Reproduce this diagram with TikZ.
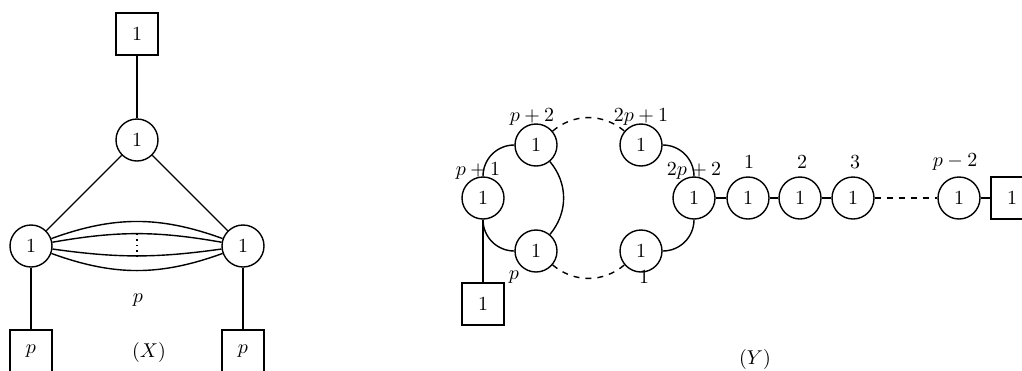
\documentclass[tikz,border=0pt]{standalone}
\begin{document}
\begin{tikzpicture}[x=0.5pt,y=0.5pt,
  vtx/.style={circle,draw,line width=0.7pt,minimum size=21pt,inner sep=0pt},
  sq/.style={rectangle,draw,line width=0.7pt,minimum size=21pt,inner sep=0pt},
  lnk/.style={line width=0.7pt},
  lbl/.style={inner sep=0pt}]
\useasboundingbox (0,0) rectangle (1022,-370);
\clip (0,0) rectangle (1022,-370);
% ---------- (X) ----------
\node[sq] (xt) at (137,-34) {$1$};
\node[vtx] (xc) at (137,-140) {$1$};
\node[vtx] (xl) at (31,-246) {$1$};
\node[vtx] (xr) at (243,-246) {$1$};
\node[sq] (xbl) at (31,-351) {$p$};
\node[sq] (xbr) at (243,-351) {$p$};
\node[lbl] (xp) at (138,-300) {$p$};
\node[lbl] (xname) at (149,-352) {$(X)$};
\coordinate (d1) at (137,-234);
\coordinate (d2) at (137,-258);
\draw[lnk] (xt) -- (xc);
\draw[lnk] (xc) -- (xl);
\draw[lnk] (xc) -- (xr);
\draw[lnk] (xl) -- (xbl);
\draw[lnk] (xr) -- (xbr);
\draw[lnk] (xl) to[bend left=20] (xr);
\draw[lnk] (xl) to[bend left=10] (xr);
\draw[lnk] (xl) to[bend right=8] (xr);
\draw[lnk] (xl) to[bend right=20] (xr);
\draw[lnk,dotted] (d1) -- (d2);
% ---------- (Y) ----------
\node[vtx] (A) at (483,-198) {$1$};
\node[vtx] (B) at (536,-145) {$1$};
\node[vtx] (C) at (536,-251) {$1$};
\node[vtx] (D) at (641,-145) {$1$};
\node[vtx] (E) at (641,-251) {$1$};
\node[vtx] (F) at (694,-198) {$1$};
\node[sq] (SA) at (483,-304) {$1$};
\node[vtx] (G1) at (748,-198) {$1$};
\node[vtx] (G2) at (800,-198) {$1$};
\node[vtx] (G3) at (853,-198) {$1$};
\node[vtx] (G4) at (959,-198) {$1$};
\node[sq] (S2) at (1012,-198) {$1$};
\draw[lnk] (A.north) to[out=90,in=180] (B.west);
\draw[lnk] (A.south) to[out=-90,in=180] (C.west);
\draw[lnk] (B) to[bend left=40] (C);
\draw[lnk,dashed] (B) to[bend left=40] (D);
\draw[lnk,dashed] (C) to[bend right=40] (E);
\draw[lnk] (D.east) to[out=0,in=90] (F.north);
\draw[lnk] (E.east) to[out=0,in=-90] (F.south);
\draw[lnk] (A) -- (SA);
\draw[lnk] (F) -- (G1);
\draw[lnk] (G1) -- (G2);
\draw[lnk] (G2) -- (G3);
\draw[lnk,dashed] (G3) -- (G4);
\draw[lnk] (G4) -- (S2);
\node[lbl] (lB) at (532,-117) {$p+2$};
\node[lbl] (lD) at (641,-117) {$2p+1$};
\node[lbl] (lA) at (478,-171) {$p+1$};
\node[lbl] (lF) at (694,-171) {$2p+2$};
\node[lbl] (lC) at (514,-277) {$p$};
\node[lbl] (lE) at (644,-277) {$1$};
\node[lbl] (l1) at (749,-162) {$1$};
\node[lbl] (l2) at (802,-162) {$2$};
\node[lbl] (l3) at (855,-162) {$3$};
\node[lbl] (l4) at (955,-162) {$p-2$};
\node[lbl] (yname) at (755,-359) {$(Y)$};
\end{tikzpicture}
\end{document}
